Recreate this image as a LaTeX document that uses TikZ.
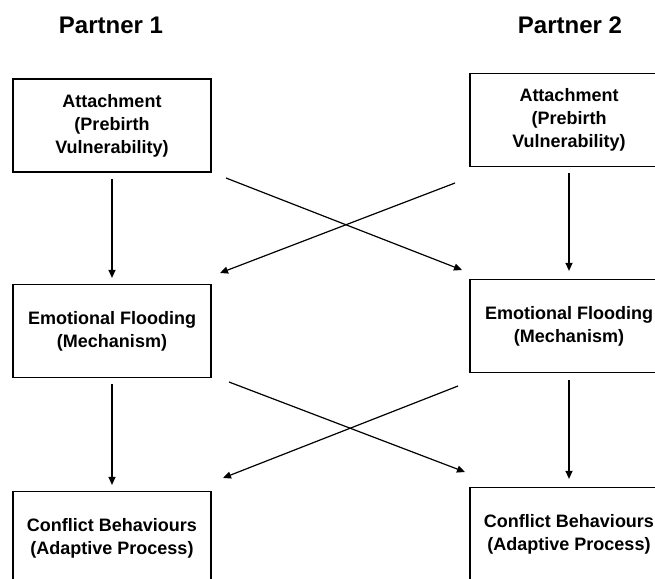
\documentclass[tikz,border=0pt]{standalone}
\usepackage{fontspec}
\setmainfont{Liberation Sans}
\usetikzlibrary{arrows.meta}
\begin{document}
\begin{tikzpicture}[x=1pt,y=-1pt,
  box/.style={draw=black,line width=1.2pt,minimum width=198pt,minimum height=93pt,
    inner sep=0pt,align=center,font=\fontsize{18}{23}\selectfont\bfseries},
  title/.style={font=\fontsize{24}{28}\selectfont\bfseries},
  arr/.style={line width=1.2pt,-{Triangle[length=8pt,width=7pt]}}]
\useasboundingbox (0,0) rectangle (655,578);
\clip (0,0) rectangle (655,578);
\node[title] (t1) at (111,25) {Partner 1};
\node[title] (t2) at (570,25) {Partner 2};
\node[box] (l1) at (112,125.5) {Attachment\\(Prebirth\\Vulnerability)};
\node[box] (r1) at (569,120) {Attachment\\(Prebirth\\Vulnerability)};
\node[box] (l2) at (112,331) {Emotional Flooding\\(Mechanism)};
\node[box] (r2) at (569,326) {Emotional Flooding\\(Mechanism)};
\node[box] (l3) at (112,538) {Conflict Behaviours\\(Adaptive Process)};
\node[box] (r3) at (569,534) {Conflict Behaviours\\(Adaptive Process)};
\draw[arr,shorten <=6pt,shorten >=6pt] (l1.south) -- (l2.north);
\draw[arr,shorten <=6pt,shorten >=8pt] (r1.south) -- (r2.north);
\draw[arr,shorten <=6pt,shorten >=6pt] (l2.south) -- (l3.north);
\draw[arr,shorten <=7pt,shorten >=8pt] (r2.south) -- (r3.north);
\coordinate (a1) at (226,178);
\coordinate (a2) at (462,270);
\coordinate (b1) at (455,183);
\coordinate (b2) at (220,273);
\coordinate (c1) at (229,382);
\coordinate (c2) at (465,472);
\coordinate (d1) at (458,386);
\coordinate (d2) at (223,478);
\draw[arr] (a1) -- (a2);
\draw[arr] (b1) -- (b2);
\draw[arr] (c1) -- (c2);
\draw[arr] (d1) -- (d2);
\end{tikzpicture}
\end{document}
